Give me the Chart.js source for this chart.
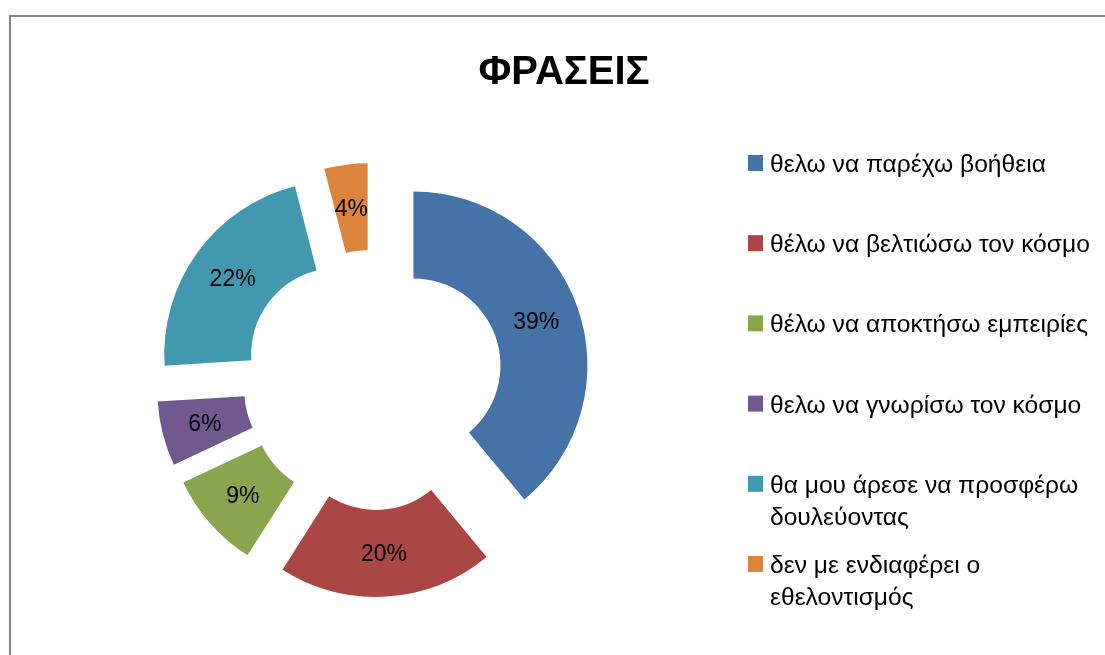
<!DOCTYPE html>
<html><head><meta charset="utf-8">
<script src="https://cdn.jsdelivr.net/npm/chart.js@4.4.1/dist/chart.umd.min.js"></script>
<style>
html,body{margin:0;padding:0;background:#fff;overflow:hidden}
#wrap{position:relative;width:1105px;height:655px;overflow:hidden}
#frame{position:absolute;left:9px;top:15px;width:1200px;height:700px;border-left:2px solid #888;border-top:2px solid #888}
canvas{position:absolute;left:0;top:0}
</style></head><body>
<div id="wrap"><div id="frame"></div><canvas id="c" width="1105" height="655"></canvas></div>
<script>
const chartTitle = 'ΦΡΑΣΕΙΣ';
const categories = [
  'θελω να παρέχω βοήθεια',
  'θέλω να βελτιώσω τον κόσμο',
  'θέλω να αποκτήσω εμπειρίες',
  'θελω να γνωρίσω τον κόσμο',
  ['θα μου άρεσε να προσφέρω', 'δουλεύοντας'],
  ['δεν με ενδιαφέρει ο', 'εθελοντισμός']
];
const values = [39, 20, 9, 6, 22, 4];
const colors = ['#4572A7', '#AA4643', '#89A54E', '#71588F', '#4198AF', '#DB843D'];

const EXPLODE = 43;
const FONT = '"Liberation Sans", Arial, sans-serif';

const explodePlugin = {
  id: 'explode',
  beforeDatasetDraw(chart, args) {
    const ctx = chart.ctx;
    const meta = args.meta;
    meta.data.forEach(arc => {
      const mid = (arc.startAngle + arc.endAngle) / 2;
      ctx.save();
      ctx.translate(Math.cos(mid) * EXPLODE, Math.sin(mid) * EXPLODE);
      arc.draw(ctx);
      ctx.restore();
    });
    return false;
  },
  afterDatasetsDraw(chart) {
    const ctx = chart.ctx;
    const meta = chart.getDatasetMeta(0);
    const data = chart.data.datasets[0].data;
    const total = data.reduce((a, b) => a + b, 0);
    ctx.save();
    ctx.fillStyle = '#000';
    ctx.font = '23px ' + FONT;
    ctx.textAlign = 'center';
    ctx.textBaseline = 'alphabetic';
    meta.data.forEach((arc, i) => {
      const mid = (arc.startAngle + arc.endAngle) / 2;
      const r = (arc.innerRadius + arc.outerRadius) / 2 + EXPLODE;
      const x = arc.x + Math.cos(mid) * r;
      const y = arc.y + Math.sin(mid) * r;
      ctx.fillText(Math.round(data[i] / total * 100) + '%', x, y + 23 * 0.358);
    });
    ctx.restore();
  },
  afterDraw(chart) {
    const ctx = chart.ctx;
    ctx.save();
    ctx.fillStyle = '#000';
    ctx.font = 'bold 40px ' + FONT;
    ctx.textAlign = 'center';
    ctx.textBaseline = 'alphabetic';
    ctx.fillText(chartTitle, 564, 84);
    ctx.font = '24.6px ' + FONT;
    ctx.textAlign = 'left';
    const labels = chart.data.labels;
    const bg = chart.data.datasets[0].backgroundColor;
    labels.forEach((lab, i) => {
      const base = 172 + i * 80.2;
      ctx.fillStyle = bg[i];
      ctx.fillRect(748, base - 17, 15, 16);
      ctx.fillStyle = '#000';
      const lines = Array.isArray(lab) ? lab : [lab];
      lines.forEach((ln, j) => ctx.fillText(ln, 770, base + j * 32));
    });
    ctx.restore();
  }
};

new Chart(document.getElementById('c'), {
  type: 'doughnut',
  data: {
    labels: categories,
    datasets: [{
      data: values,
      backgroundColor: colors,
      borderWidth: 0
    }]
  },
  options: {
    responsive: false,
    animation: false,
    devicePixelRatio: 1,
    radius: 174,
    cutout: '50%',
    layout: { padding: { left: 156, right: 515, top: 163, bottom: 58 } },
    plugins: {
      legend: { display: false },
      title: { display: false },
      tooltip: { enabled: false }
    }
  },
  plugins: [explodePlugin]
});
</script>
</body></html>
